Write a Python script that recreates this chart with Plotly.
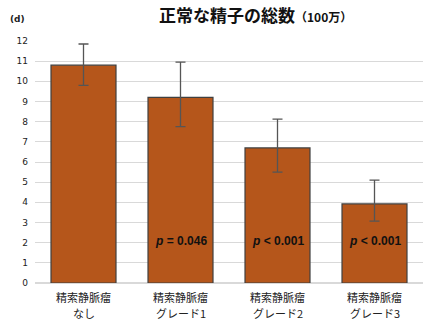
import plotly.graph_objects as go

categories = ["なし", "グレード1", "グレード2", "グレード3"]
label_prefix = "精索静脈瘤"
values = [10.8, 9.2, 6.7, 3.92]
err_plus = [1.05, 1.75, 1.43, 1.18]
err_minus = [1.0, 1.45, 1.2, 0.85]
p_labels = ["", "<i>p</i> = 0.046", "<i>p</i> < 0.001", "<i>p</i> < 0.001"]
p_label_y = 2.1
y_ticks = list(range(0, 13))

fig = go.Figure()
fig.add_trace(go.Bar(
    x=categories, y=values, width=0.67,
    marker=dict(color="#B5561B", line=dict(color="#404040", width=1.2)),
    error_y=dict(type="data", symmetric=False, array=err_plus, arrayminus=err_minus,
                 color="#555555", thickness=1.3, width=5),
))

for cat, lab in zip(categories, p_labels):
    if lab:
        fig.add_annotation(x=cat, y=p_label_y, text="<b>" + lab + "</b>", showarrow=False,
                           font=dict(family="Liberation Sans, Arial", size=12, color="#111111"))

# two-line category labels with wider line spacing
label_font = dict(family="Noto Sans CJK JP", size=11, color="#222222")
for cat in categories:
    fig.add_annotation(x=cat, y=0, yref="y", text=label_prefix, showarrow=False,
                       yanchor="middle", yshift=-14, font=label_font)
    fig.add_annotation(x=cat, y=0, yref="y", text=cat, showarrow=False,
                       yanchor="middle", yshift=-30, font=label_font)

fig.add_annotation(xref="paper", yref="paper", x=-0.07, y=1.12, xanchor="left",
                   text="<b>(d)</b>", showarrow=False,
                   font=dict(family="DejaVu Sans", size=9, color="#222222"))

fig.update_layout(
    width=426, height=324,
    margin=dict(l=35, r=3, t=41, b=41),
    paper_bgcolor="white", plot_bgcolor="white",
    showlegend=False,
    title=dict(text="<b>正常な精子の総数</b><b><span style='font-size:12px'>（100万）</span></b>",
               x=0.6, xanchor="center", y=0.95, yanchor="middle",
               font=dict(family="Noto Sans CJK JP", size=17, color="#111111")),
    xaxis=dict(showticklabels=False, showline=False, ticks=""),
    yaxis=dict(range=[0, 12], tickvals=y_ticks, showgrid=True, gridcolor="#D9D9D9",
               gridwidth=1, zeroline=True, zerolinecolor="#D9D9D9",
               tickfont=dict(family="DejaVu Sans", size=9, color="#222222"),
               ticklabelstandoff=6),
)

fig.write_html("out.html")
